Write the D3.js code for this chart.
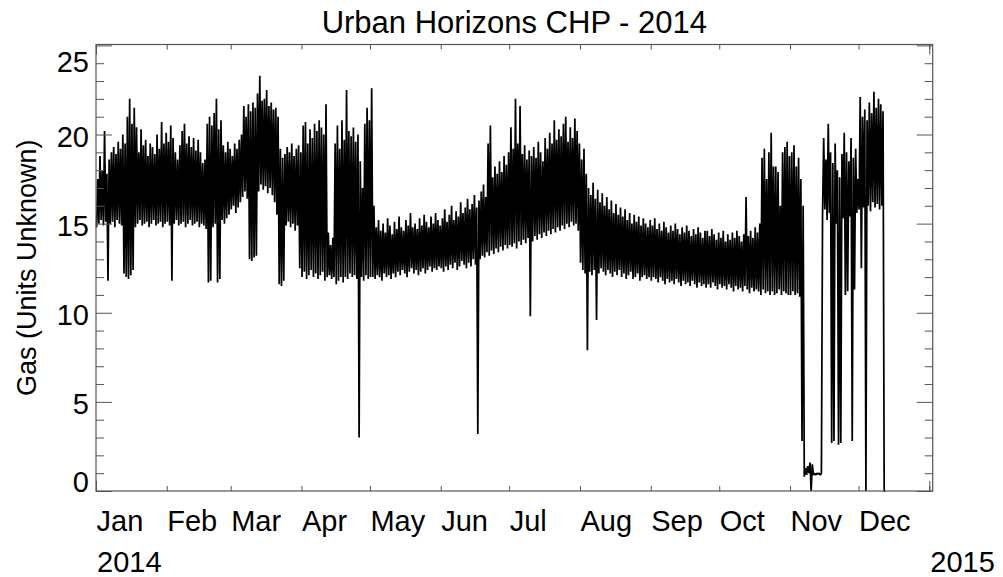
<!DOCTYPE html>
<html>
<head>
<meta charset="utf-8">
<script src="https://cdn.jsdelivr.net/npm/d3@7/dist/d3.min.js"></script>
<style>
  html, body { margin: 0; padding: 0; background: #ffffff; }
  svg { display: block; }
  text { font-family: "Liberation Sans", Arial, Helvetica, sans-serif; fill: #000; }
</style>
</head>
<body>
<svg id="chart" width="1003" height="577"></svg>
<script>
// ---------------- DATA ----------------
const chartTitle = "Urban Horizons CHP - 2014";
const yAxisTitle = "Gas (Units Unknown)";
const startDay = "2014-01-01";

// Daily upper envelope of the gas series (one value per day from 1 Jan 2014)
const dailyHigh = [
  // Jan
  17.5,18.8,18.0,20.2,17.8,18.6,19.0,19.3,18.9,19.6,19.2,20.0,19.5,21.0,22.0,20.6,21.5,20.4,19.0,20.3,19.4,19.7,18.8,19.5,19.3,18.9,20.0,19.2,20.7,19.5,20.1,
  // Feb
  19.6,20.5,19.8,19.0,18.6,19.4,20.2,20.6,19.5,19.9,19.3,19.8,19.1,19.7,19.0,18.4,18.6,20.6,21.0,20.5,21.2,22.0,20.3,20.8,19.4,19.0,19.6,19.2,
  // Mar
  18.8,19.5,19.2,19.7,20.0,21.6,21.0,21.7,21.3,21.8,21.5,22.3,23.3,21.9,22.0,22.5,21.6,21.8,21.4,21.5,21.0,19.2,18.7,18.9,19.3,19.0,19.5,18.8,19.2,19.4,19.0,
  // Apr
  20.5,20.7,19.5,20.3,19.8,20.6,20.2,20.8,20.4,20.0,21.7,14.5,13.8,14.2,19.5,20.5,19.2,20.8,19.7,22.5,20.2,19.9,20.4,19.6,20.0,18.5,17.0,20.6,21.5,20.8,
  // May
  22.6,16.0,14.8,15.2,14.6,15.0,14.5,15.3,14.9,14.4,15.1,14.7,15.4,14.8,14.6,15.2,14.9,15.6,14.8,15.0,14.7,15.3,14.9,15.5,15.1,14.8,15.4,15.0,15.6,15.2,14.9,
  // Jun
  15.3,15.8,15.1,15.5,16.0,15.2,15.7,15.4,16.2,15.6,15.9,16.4,15.8,16.1,16.6,15.9,16.3,16.8,17.2,16.5,19.5,20.5,17.6,18.2,17.8,18.5,17.9,18.8,18.3,19.0,
  // Jul
  20.4,19.2,22.0,19.5,21.6,18.9,19.4,18.6,19.1,18.8,19.3,18.7,19.6,19.0,18.5,19.8,19.2,20.1,19.5,20.8,19.7,20.3,19.9,20.6,21.0,19.6,20.4,19.8,20.9,20.2,19.5,
  // Aug
  18.6,19.2,17.8,17.0,16.6,17.3,16.4,16.9,16.2,16.7,16.0,16.5,15.8,16.3,15.6,16.1,15.5,15.9,15.4,15.8,15.2,15.6,15.0,15.5,15.1,15.4,14.9,15.3,15.0,14.8,15.2,
  // Sep
  14.9,15.3,14.7,15.0,14.6,15.1,14.8,14.5,14.9,14.6,15.0,14.7,14.4,14.8,14.5,14.9,14.6,14.3,14.7,14.4,14.8,14.5,14.2,14.6,14.6,14.3,14.7,14.4,14.1,14.5,
  // Oct
  14.2,14.6,14.0,14.4,14.1,14.5,14.2,14.6,14.3,14.0,14.4,16.5,14.3,14.6,14.2,14.8,14.5,15.0,18.7,19.2,17.5,19.0,20.1,18.2,18.2,17.9,16.0,19.0,19.3,19.6,18.8,
  // Nov
  19.0,19.4,18.2,18.7,17.5,16.0,1.3,1.4,1.6,1.5,1.0,1.0,1.0,1.0,19.8,18.6,20.6,19.0,18.4,19.5,18.0,17.6,18.9,20.1,19.0,18.5,19.8,18.7,19.2,17.5,
  // Dec (series ends 11 Dec)
  22.1,21.0,21.4,20.8,21.8,21.2,22.4,21.5,22.0,21.7,21.3,0
];

// Daily lower envelope of the gas series
const dailyLow = [
  // Jan
  14.8,15.0,15.2,14.9,15.1,11.8,15.0,15.1,14.8,15.2,15.0,14.9,12.2,12.0,11.9,12.1,12.4,14.8,15.0,15.2,14.9,15.0,15.1,14.8,15.0,15.2,14.9,15.0,15.1,14.8,15.0,
  // Feb
  15.1,14.9,11.8,15.0,15.2,14.9,15.0,15.1,14.8,15.0,15.2,14.9,15.0,15.1,14.8,15.0,14.9,14.7,11.7,11.8,14.8,15.0,11.7,11.9,15.2,15.0,15.3,15.5,
  // Mar
  15.8,16.0,15.6,15.9,16.2,16.5,16.8,16.4,13.0,12.9,13.1,13.2,16.8,17.2,16.9,17.1,16.7,17.0,16.6,16.2,15.5,11.6,11.5,11.8,14.9,15.1,14.8,15.0,14.6,14.9,12.5,
  // Apr
  12.0,12.3,11.9,12.1,12.4,12.0,12.2,11.9,12.1,12.3,11.8,12.0,12.1,11.9,12.0,11.6,11.8,12.0,11.7,12.0,11.9,12.2,12.0,12.1,11.9,3.0,12.0,11.8,12.1,11.9,
  // May
  12.0,12.0,11.9,12.1,12.0,11.8,12.2,12.0,12.1,11.9,12.2,12.0,12.3,12.1,12.4,12.2,12.0,12.3,12.5,12.2,12.4,12.1,12.3,12.5,12.2,12.4,12.6,12.3,12.5,12.4,12.6,
  // Jun
  12.5,12.3,12.6,12.4,12.7,12.5,12.8,12.4,12.6,12.9,12.7,12.5,12.8,12.6,13.0,12.7,3.2,13.0,13.2,13.1,13.4,13.2,13.5,13.3,13.6,13.4,13.7,13.5,13.8,13.6,
  // Jul
  13.8,13.7,13.9,13.6,14.0,13.8,14.1,13.9,14.2,9.8,14.0,14.3,14.1,14.4,14.2,14.5,14.3,14.6,14.4,14.7,14.5,14.8,14.6,14.9,14.7,15.0,14.8,15.1,14.9,15.0,14.6,
  // Aug
  12.8,12.4,12.2,7.9,12.3,12.1,12.4,9.6,12.2,12.5,12.3,12.1,12.4,12.2,12.0,12.3,12.1,12.4,12.0,12.2,11.9,12.1,12.3,11.9,12.0,12.2,11.8,12.0,12.1,11.9,12.0,
  // Sep
  11.8,12.0,11.9,11.7,12.0,11.8,11.6,11.9,11.7,11.8,11.6,11.9,11.7,11.5,11.8,11.6,11.7,11.5,11.8,11.6,11.4,11.7,11.5,11.6,11.4,11.6,11.4,11.7,11.5,11.3,
  // Oct
  11.6,11.4,11.5,11.3,11.6,11.4,11.2,11.5,11.3,11.4,11.2,11.5,11.3,11.1,11.4,11.2,11.3,11.2,11.0,11.3,11.1,11.2,11.0,11.2,11.0,11.1,11.3,11.0,11.2,11.1,11.0,
  // Nov
  11.0,11.2,11.0,11.1,10.9,2.8,0.8,0.9,1.0,0.0,0.9,0.9,0.95,0.9,15.5,15.8,15.2,15.6,2.7,2.8,15.0,2.6,2.7,15.3,11.0,11.2,15.4,2.8,11.3,15.6,
  // Dec
  15.8,12.5,15.9,0.0,16.0,15.7,16.2,15.9,16.1,15.8,16.0,0
];

const yMajorTicks = [0, 5, 10, 15, 20, 25];
const yMinorTicks = [1,2,3,4,6,7,8,9,11,12,13,14,16,17,18,19,21,22,23,24];
const monthLabels = ["Jan","Feb","Mar","Apr","May","Jun","Jul","Aug","Sep","Oct","Nov","Dec"];
const yearLabels = ["2014", "2015"];

// ---------------- LAYOUT ----------------
const plotLeft = 96, plotRight = 932.7, plotTop = 44.5, plotBottom = 491;
const DAY_MS = 864e5;
const t0 = Date.parse(startDay + "T00:00:00Z");

const svg = d3.select("#chart");

const x = d3.scaleUtc()
  .domain([new Date(t0), new Date(Date.UTC(2015, 0, 2, 12))])
  .range([plotLeft, plotRight]);
const y = d3.scaleLinear().domain([0, 25.05]).range([plotBottom, plotTop]);

// ---------------- SERIES ----------------
const points = [];
dailyHigh.forEach((hi, i) => {
  points.push({ t: new Date(t0 + (i + 0.25) * DAY_MS), v: dailyLow[i] });
  points.push({ t: new Date(t0 + (i + 0.75) * DAY_MS), v: hi });
});

const line = d3.line().x(d => x(d.t)).y(d => y(d.v));
svg.append("path")
  .datum(points)
  .attr("d", line)
  .attr("fill", "none")
  .attr("stroke", "#000")
  .attr("stroke-width", 1.75)
  .attr("stroke-linejoin", "bevel");

// ---------------- AXES ----------------
const axisColor = "#555";
function styleAxis(g) {
  g.select(".domain").remove();
  g.selectAll(".tick line").attr("stroke", axisColor).attr("stroke-width", 1);
  g.selectAll(".tick text").remove();
}

// frame
svg.append("rect")
  .attr("x", plotLeft).attr("y", plotTop)
  .attr("width", plotRight - plotLeft).attr("height", plotBottom - plotTop)
  .attr("fill", "none").attr("stroke", axisColor).attr("stroke-width", 1.2);

// Y ticks (left & right, pointing inward)
svg.append("g").attr("transform", `translate(${plotLeft},0)`)
  .call(d3.axisRight(y).tickValues(yMajorTicks).tickSize(16).tickSizeOuter(0)).call(styleAxis);
svg.append("g").attr("transform", `translate(${plotLeft},0)`)
  .call(d3.axisRight(y).tickValues(yMinorTicks).tickSize(8).tickSizeOuter(0)).call(styleAxis);
svg.append("g").attr("transform", `translate(${plotRight},0)`)
  .call(d3.axisLeft(y).tickValues(yMajorTicks).tickSize(16).tickSizeOuter(0)).call(styleAxis);
svg.append("g").attr("transform", `translate(${plotRight},0)`)
  .call(d3.axisLeft(y).tickValues(yMinorTicks).tickSize(8).tickSizeOuter(0)).call(styleAxis);

// X ticks (month starts, year starts longer)
const monthTicks = d3.utcMonth.range(new Date(t0), new Date(Date.UTC(2015, 0, 2)));
const yearTicks = [new Date(t0), new Date(Date.UTC(2015, 0, 1))];
svg.append("g").attr("transform", `translate(0,${plotBottom})`)
  .call(d3.axisTop(x).tickValues(monthTicks).tickSize(5).tickSizeOuter(0)).call(styleAxis);
svg.append("g").attr("transform", `translate(0,${plotTop})`)
  .call(d3.axisBottom(x).tickValues(monthTicks).tickSize(5).tickSizeOuter(0)).call(styleAxis);
svg.append("g").attr("transform", `translate(0,${plotBottom})`)
  .call(d3.axisTop(x).tickValues(yearTicks).tickSize(10).tickSizeOuter(0)).call(styleAxis);
svg.append("g").attr("transform", `translate(0,${plotTop})`)
  .call(d3.axisBottom(x).tickValues(yearTicks).tickSize(10).tickSizeOuter(0)).call(styleAxis);

// ---------------- TEXT ----------------
// Y tick labels (end labels are pulled inside the frame)
svg.append("g").selectAll("text")
  .data(yMajorTicks)
  .join("text")
  .attr("x", 89)
  .attr("y", d => {
    if (d === yMajorTicks[yMajorTicks.length - 1]) return y(d) + 27;
    if (d === yMajorTicks[0]) return y(d) + 0.5;
    return y(d) + 12.5;
  })
  .attr("text-anchor", "end")
  .attr("font-size", 29)
  .text(d => d);

// Month labels, left-aligned at month ticks
svg.append("g").selectAll("text")
  .data(monthTicks.slice(0, 12))
  .join("text")
  .attr("x", d => x(d) + 0.5)
  .attr("y", 531)
  .attr("font-size", 29)
  .text((d, i) => monthLabels[i]);

// Year labels
svg.append("g").selectAll("text")
  .data(yearTicks)
  .join("text")
  .attr("x", d => x(d) + 1)
  .attr("y", 572)
  .attr("font-size", 29)
  .text((d, i) => yearLabels[i]);

// Title
svg.append("text")
  .attr("x", (plotLeft + plotRight) / 2)
  .attr("y", 32.5)
  .attr("text-anchor", "middle")
  .attr("font-size", 31)
  .text(chartTitle);

// Y axis title
svg.append("text")
  .attr("transform", `translate(35.5,${(plotTop + plotBottom) / 2}) rotate(-90)`)
  .attr("text-anchor", "middle")
  .attr("font-size", 27)
  .text(yAxisTitle);
</script>
</body>
</html>
